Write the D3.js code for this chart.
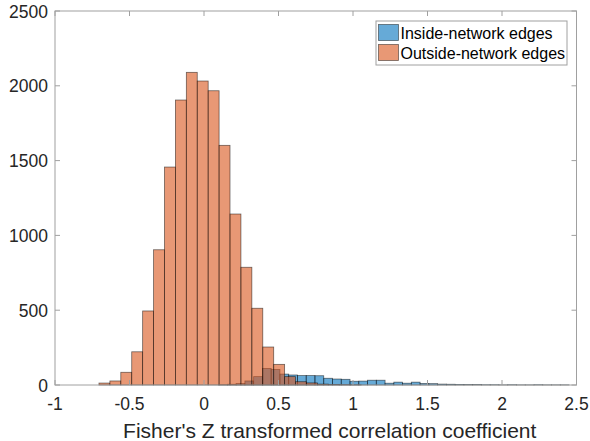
<!DOCTYPE html>
<html>
<head>
<meta charset="utf-8">
<script src="https://cdn.jsdelivr.net/npm/d3@7"></script>
<style>
  body { margin: 0; background: #fff; }
  text { font-family: "Liberation Sans", Arial, sans-serif; fill: #262626; }
</style>
</head>
<body>
<div id="chart"></div>
<script>
// histogram counts, read per bin (left edge + width)
var outsideStart = -0.705, outsideWidth = 0.0733;
var outsideCounts = [13, 27, 85, 222, 495, 904, 1457, 1905, 2090, 2032, 1967, 1602,
                     1143, 787, 513, 254, 138, 56, 22, 14, 6, 3, 2, 1];

var insideStart = 0.098, insideWidth = 0.0588;
var insideCounts = [2, 5, 10, 27, 56, 111, 104, 73, 67, 63, 63, 62, 45, 40, 38, 25,
                    26, 32, 32, 12, 19, 12, 19, 10, 9, 6, 5, 4, 3, 3, 2, 2, 1, 2, 1, 1, 2, 1, 1, 1];

var xTicks = [-1, -0.5, 0, 0.5, 1, 1.5, 2, 2.5];
var yTicks = [0, 500, 1000, 1500, 2000, 2500];
var seriesNames = ["Inside-network edges", "Outside-network edges"];
var seriesColors = ["#0072bd", "#d95319"];

function toBins(start, w, counts) {
  return counts.map(function (c, i) { return { x0: start + i * w, x1: start + (i + 1) * w, n: c }; });
}
var inside = toBins(insideStart, insideWidth, insideCounts);
var outside = toBins(outsideStart, outsideWidth, outsideCounts);

var W = 590, H = 441;
var m = { left: 55, right: 13.5, top: 11, bottom: 56 };
var iw = W - m.left - m.right, ih = H - m.top - m.bottom;

var svg = d3.select("#chart").append("svg").attr("width", W).attr("height", H);
var g = svg.append("g").attr("transform", "translate(" + m.left + "," + m.top + ")");

var x = d3.scaleLinear().domain([-1, 2.5]).range([0, iw]);
var y = d3.scaleLinear().domain([0, 2500]).range([ih, 0]);

// bars: inside first, outside drawn over it
[inside, outside].forEach(function (bins, k) {
  g.append("g").selectAll("rect").data(bins).enter().append("rect")
    .attr("x", function (d) { return x(d.x0); })
    .attr("y", function (d) { return y(d.n); })
    .attr("width", function (d) { return x(d.x1) - x(d.x0); })
    .attr("height", function (d) { return ih - y(d.n); })
    .attr("fill", seriesColors[k])
    .attr("fill-opacity", 0.6)
    .attr("stroke", "#000")
    .attr("stroke-opacity", 0.55)
    .attr("stroke-width", 0.8);
});

// axes box + inward ticks on all sides
var axisColor = "#a0a0a0";
g.append("rect").attr("width", iw).attr("height", ih)
  .attr("fill", "none").attr("stroke", axisColor).attr("stroke-width", 1);

var tk = 5;
xTicks.forEach(function (t) {
  g.append("line").attr("x1", x(t)).attr("x2", x(t)).attr("y1", ih).attr("y2", ih - tk).attr("stroke", axisColor);
  g.append("line").attr("x1", x(t)).attr("x2", x(t)).attr("y1", 0).attr("y2", tk).attr("stroke", axisColor);
  g.append("text").attr("x", x(t)).attr("y", ih + 25).attr("text-anchor", "middle")
    .style("font-size", "17.5px").text(t);
});
yTicks.forEach(function (t) {
  g.append("line").attr("x1", 0).attr("x2", tk).attr("y1", y(t)).attr("y2", y(t)).attr("stroke", axisColor);
  g.append("line").attr("x1", iw).attr("x2", iw - tk).attr("y1", y(t)).attr("y2", y(t)).attr("stroke", axisColor);
  g.append("text").attr("x", -7).attr("y", y(t) + 6.5).attr("text-anchor", "end")
    .style("font-size", "17.5px").text(t);
});

svg.append("text").attr("x", m.left + iw / 2 + 14).attr("y", 438).attr("text-anchor", "middle")
  .style("font-size", "21px").text("Fisher's Z transformed correlation coefficient");

// legend
var lg = svg.append("g").attr("transform", "translate(376,21)");
lg.append("rect").attr("width", 191).attr("height", 44)
  .attr("fill", "#fff").attr("stroke", "#a0a0a0").attr("stroke-width", 1);
seriesNames.forEach(function (name, i) {
  lg.append("rect").attr("x", 2.5).attr("y", 3.5 + i * 20).attr("width", 20).attr("height", 16)
    .attr("fill", seriesColors[i]).attr("fill-opacity", 0.6)
    .attr("stroke", "#000").attr("stroke-opacity", 0.55).attr("stroke-width", 0.8);
  lg.append("text").attr("x", 24.5).attr("y", 17.5 + i * 20)
    .style("font-size", "16px").style("fill", "#000").text(name);
});
</script>
</body>
</html>
